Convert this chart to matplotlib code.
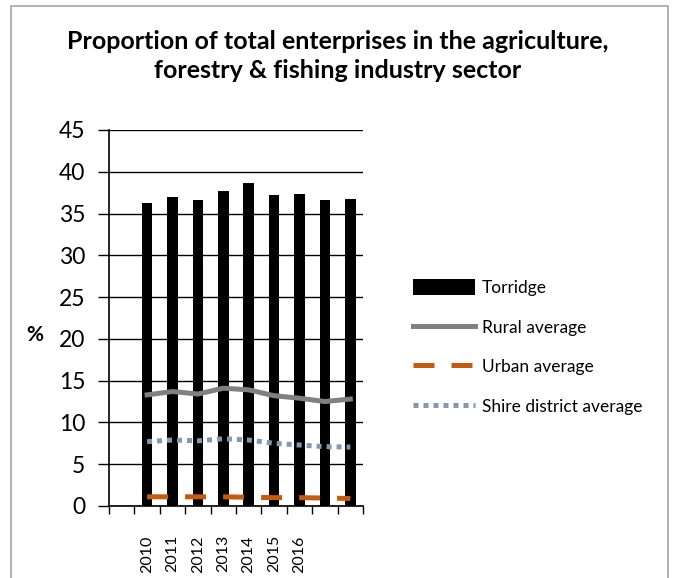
import numpy as np
import matplotlib
matplotlib.use("Agg")
import matplotlib.pyplot as plt
from matplotlib.patches import Rectangle

plt.rcParams['font.family'] = ['Lato', 'DejaVu Sans']

# chart data
categories = ['', '2010', '2011', '2012', '2013', '2014', '2015', '2016', '', '']
torridge = [np.nan, 36.3, 37.0, 36.6, 37.7, 38.7, 37.2, 37.4, 36.6, 36.8]
rural = [np.nan, 13.3, 13.7, 13.4, 14.1, 13.9, 13.2, 12.9, 12.5, 12.8]
urban = [np.nan, 1.1, 1.1, 1.1, 1.1, 1.05, 1.0, 1.0, 0.95, 0.9]
shire = [np.nan, 7.7, 7.9, 7.8, 8.05, 7.9, 7.5, 7.3, 7.1, 7.05]

title = 'Proportion of total enterprises in the agriculture,\nforestry & fishing industry sector'

fig = plt.figure(figsize=(6.76, 5.78), dpi=100)
ax = fig.add_axes([109 / 676, 72 / 578, 254 / 676, 376 / 578])

x = np.arange(len(categories))
bars = ax.bar(x, torridge, width=0.42, color='black', label='Torridge', zorder=3)
l1, = ax.plot(x, rural, color='#808080', lw=3.6, label='Rural average', zorder=4)
l2, = ax.plot(x, urban, color='#C55A11', lw=3.6, dashes=(4.2, 3.4),
              dash_capstyle='butt', label='Urban average', zorder=4)
l3, = ax.plot(x, shire, color='#8497B0', lw=3.6, dashes=(1, 1),
              dash_capstyle='butt', label='Shire district average', zorder=4)

ax.set_xlim(-0.5, len(categories) - 0.5)
ax.set_ylim(0, 45)
ax.set_yticks(np.arange(0, 46, 5))
ax.yaxis.grid(True, color='black', lw=1)
ax.set_axisbelow(True)

ax.set_xticks(x)
ax.set_xticklabels(categories, rotation=90, fontsize=11.5)
ax.set_xticks(np.arange(-0.5, len(categories)), minor=True)
ax.tick_params(axis='x', which='major', length=0, pad=21)
ax.tick_params(axis='x', which='minor', length=6, width=1, direction='out')
ax.tick_params(axis='y', length=8, width=1, labelsize=16.5, pad=9)

for s in ['top', 'right']:
    ax.spines[s].set_visible(False)
for s in ['left', 'bottom']:
    ax.spines[s].set_linewidth(1.2)

fig.text(0.5, 1 - 56 / 578, title, ha='center', va='center', fontsize=18,
         fontweight='bold', linespacing=1.35)
fig.text(35 / 676, 1 - 335 / 578, '%', ha='center', va='center',
         fontsize=15, fontweight='bold')

ax.legend([bars, l1, l2, l3],
          ['Torridge', 'Rural average', 'Urban average', 'Shire district average'],
          loc='center left', bbox_to_anchor=(397 / 676, 1 - 347 / 578),
          bbox_transform=fig.transFigure, frameon=False, fontsize=12.5,
          handlelength=3.6, handleheight=1.0, labelspacing=1.32,
          handletextpad=0.4)

fig.patches.append(Rectangle((11 / 676, -0.1), 657 / 676, 1.1 - 6 / 578,
                             transform=fig.transFigure, fill=False,
                             edgecolor='#a6a6a6', lw=1.2))

fig.savefig('out.png', dpi=100)
